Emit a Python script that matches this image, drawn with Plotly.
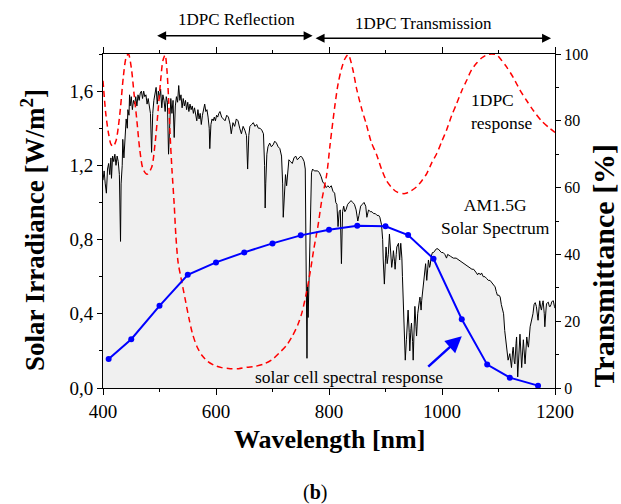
import plotly.graph_objects as go

FONT = "Liberation Serif, Times New Roman, serif"

# AM1.5G solar spectrum (W/m^2/nm)
sol_wl = [400, 402, 404, 406, 408, 410, 412, 414, 415, 417, 419, 421, 423, 425, 427, 429, 431, 432, 434, 435,
          437, 439, 441, 443, 444, 446, 447, 448, 450, 452, 454, 456, 458, 460, 462, 464, 466, 468, 470, 472,
          474, 476, 478, 480, 482, 484, 486, 488, 490, 492, 494, 496, 498, 500, 502, 504, 506, 508, 510, 512,
          514, 516, 518, 520, 522, 524, 526, 528, 530, 532, 534, 536, 538, 540, 542, 544, 546, 548, 550, 552,
          554, 556, 558, 560, 562, 564, 566, 568, 570, 572, 574, 576, 578, 580, 582, 584, 586, 588, 589, 591,
          593, 595, 597, 599, 601, 603, 605, 607, 610, 613, 616, 619, 622, 625, 627, 630, 633, 636, 639, 642,
          645, 648, 651, 654, 656, 658, 660, 663, 666, 669, 672, 675, 678, 681, 684, 686, 687, 688, 690, 692,
          695, 698, 701, 704, 707, 710, 713, 716, 718, 719, 721, 723, 725, 727, 729, 732, 735, 738, 741, 744,
          747, 750, 753, 756, 758, 759, 760, 761, 762, 763, 765, 766, 768, 769, 771, 774, 777, 780, 783, 786,
          789, 792, 795, 798, 801, 804, 807, 810, 812, 814, 816, 818, 820, 822, 824, 826, 828, 830, 833, 836,
          839, 842, 845, 848, 851, 853, 856, 859, 862, 865, 867, 870, 873, 876, 879, 882, 885, 888, 890, 893,
          895, 896, 898, 900, 901, 903, 905, 907, 909, 911, 913, 914, 916, 917, 919, 920, 923, 925, 927, 929,
          930, 932, 933, 935, 937, 939, 940, 942, 943, 945, 946, 948, 949, 951, 952, 954, 955, 957, 958, 960,
          961, 963, 964, 966, 968, 970, 971, 973, 975, 976, 978, 979, 981, 983, 985, 987, 990, 993, 996, 999,
          1002, 1005, 1008, 1010, 1015, 1020, 1025, 1030, 1035, 1040, 1045, 1050, 1053, 1056, 1059, 1061, 1063,
          1065, 1068, 1070, 1073, 1076, 1079, 1082, 1085, 1088, 1091, 1094, 1096, 1098, 1101, 1103, 1105, 1107,
          1109, 1111, 1113, 1115, 1116, 1117, 1120, 1122, 1123, 1125, 1126, 1128, 1129, 1131, 1132, 1134, 1136,
          1138, 1141, 1143, 1144, 1147, 1150, 1152, 1153, 1156, 1159, 1161, 1163, 1165, 1167, 1169, 1170, 1172,
          1173, 1175, 1176, 1178, 1179, 1181, 1182, 1184, 1185, 1187, 1188, 1190, 1191, 1193, 1194, 1196, 1197,
          1199, 1200]
sol_irr = [1.12, 1.17, 1.10, 1.05, 1.18, 1.21, 1.15, 1.24, 1.13, 1.25, 1.22, 1.26, 1.20, 1.25, 1.22, 1.15, 0.79, 1.10, 1.20, 1.34,
           1.24, 1.38, 1.45, 1.40, 1.50, 1.47, 1.58, 1.52, 1.57, 1.50, 1.55, 1.53, 1.57, 1.52, 1.58, 1.55, 1.59, 1.60, 1.56, 1.60,
           1.57, 1.58, 1.53, 1.56, 1.50, 1.48, 1.27, 1.48, 1.55, 1.58, 1.62, 1.53, 1.60, 1.56, 1.61, 1.51, 1.58, 1.55, 1.49, 1.57,
           1.54, 1.26, 1.45, 1.56, 1.48, 1.55, 1.35, 1.52, 1.57, 1.54, 1.63, 1.55, 1.58, 1.51, 1.56, 1.52, 1.55, 1.50, 1.54, 1.49,
           1.53, 1.50, 1.52, 1.48, 1.51, 1.46, 1.44, 1.50, 1.45, 1.48, 1.42, 1.47, 1.50, 1.53, 1.49, 1.50, 1.46, 1.40, 1.29, 1.42,
           1.45, 1.44, 1.46, 1.44, 1.47, 1.46, 1.48, 1.49, 1.46, 1.45, 1.44, 1.47, 1.46, 1.42, 1.37, 1.43, 1.41, 1.45, 1.44, 1.40,
           1.37, 1.41, 1.39, 1.36, 1.18, 1.36, 1.41, 1.42, 1.43, 1.41, 1.42, 1.40, 1.40, 1.39, 1.37, 1.20, 0.97, 1.10, 1.26, 1.30,
           1.32, 1.30, 1.31, 1.33, 1.32, 1.30, 1.29, 1.25, 1.10, 0.92, 1.05, 1.15, 1.09, 1.18, 1.23, 1.22, 1.21, 1.24, 1.25, 1.23,
           1.24, 1.25, 1.24, 1.22, 1.18, 0.67, 0.40, 0.16, 0.55, 0.38, 0.62, 0.80, 1.05, 1.16, 1.18, 1.17, 1.17, 1.17, 1.16, 1.14,
           1.11, 1.10, 1.08, 1.09, 1.08, 1.09, 1.06, 1.05, 1.00, 0.99, 0.87, 0.95, 0.96, 0.67, 0.95, 0.98, 0.95, 0.96, 0.99, 1.00,
           1.01, 1.00, 0.99, 0.96, 0.90, 0.93, 0.98, 0.99, 1.00, 0.98, 0.92, 0.96, 0.95, 0.95, 0.94, 0.94, 0.93, 0.93, 0.92, 0.88,
           0.80, 0.69, 0.56, 0.70, 0.76, 0.67, 0.72, 0.83, 0.72, 0.65, 0.70, 0.74, 0.68, 0.64, 0.72, 0.76, 0.78, 0.69, 0.78, 0.70,
           0.60, 0.38, 0.30, 0.15, 0.26, 0.35, 0.42, 0.30, 0.20, 0.32, 0.35, 0.25, 0.15, 0.35, 0.44, 0.33, 0.28, 0.40, 0.44, 0.47,
           0.49, 0.42, 0.47, 0.52, 0.60, 0.63, 0.67, 0.58, 0.64, 0.69, 0.65, 0.66, 0.71, 0.73, 0.73, 0.74, 0.75, 0.75, 0.74, 0.73,
           0.73, 0.72, 0.70, 0.72, 0.71, 0.70, 0.70, 0.69, 0.68, 0.67, 0.66, 0.65, 0.64, 0.64, 0.63, 0.62, 0.61,
           0.62, 0.61, 0.62, 0.60, 0.60, 0.59, 0.58, 0.58, 0.57, 0.56, 0.545, 0.52, 0.50, 0.50, 0.49, 0.45, 0.43,
           0.40, 0.31, 0.26, 0.22, 0.17, 0.15, 0.185, 0.12, 0.11, 0.20, 0.22, 0.14, 0.13, 0.24, 0.275, 0.06, 0.15,
           0.29, 0.11, 0.22, 0.26, 0.13, 0.275, 0.23, 0.22, 0.33, 0.365, 0.40, 0.45, 0.46, 0.44, 0.40, 0.365, 0.44,
           0.47, 0.43, 0.42, 0.46, 0.47, 0.40, 0.33, 0.42, 0.455, 0.46, 0.463, 0.44, 0.437, 0.45, 0.463, 0.47, 0.47,
           0.44, 0.43]

# 1DPC transmittance (%)
red_wl = [400, 405, 410, 414, 418, 423, 427, 431, 436, 441, 445, 450, 455, 460, 465, 471, 478, 486, 492, 498,
          502, 506, 510, 513, 516, 519, 522, 526, 529, 533, 538, 545, 552, 558, 566, 575, 585, 597, 610, 625,
          640, 655, 670, 685, 700, 712, 725, 735, 745, 752, 760, 767, 773, 780, 787, 796, 802, 810, 816, 822,
          828, 834, 842, 849, 858, 866, 875, 884, 893, 902, 911, 920, 934, 945, 955, 964, 973, 982, 991, 1000,
          1008, 1017, 1026, 1035, 1044, 1052, 1061, 1070, 1079, 1088, 1097, 1105, 1114, 1126, 1138, 1150, 1162,
          1176, 1191, 1200]
red_t = [92, 82, 76, 73, 72.3, 74, 78, 84, 93.2, 99, 100, 96, 88, 80, 71.5, 65.5, 64, 66, 73, 84,
         92, 98, 99.7, 95.5, 87, 75, 65.5, 55, 45.5, 37.5, 33, 27, 21, 16.5, 12.5, 9.8, 8, 6.8, 6.1, 5.8,
         5.8, 6.2, 6.5, 7.2, 8.6, 10.5, 12.8, 15.5, 19, 22.5, 28.5, 35, 41.5, 48, 56, 64, 73, 84, 91, 95.5,
         98.5, 99.8, 95.5, 89.5, 83.5, 79, 73.5, 70, 65.5, 62, 60, 58.7, 58.2, 59, 60.2, 62, 64.2, 67.5, 70.3, 74,
         77.2, 81.5, 85.2, 89, 92.2, 95.2, 97.2, 98.8, 99.7, 100, 99.7, 98.2, 96.2, 93, 89.2, 86, 83,
         80, 77.7, 76.5]

# Solar cell spectral response (right axis scale)
blue_wl = [410, 450, 500, 550, 600, 650, 700, 750, 800, 850, 900, 940, 985, 1035, 1080, 1120, 1170]
blue_sr = [8.7, 14.6, 24.6, 33.9, 37.6, 40.6, 43.3, 45.7, 47.4, 48.6, 48.4, 45.8, 38.7, 20.6, 7.0, 3.1, 0.7]

x_ticks = [400, 600, 800, 1000, 1200]
y_ticks = [0, 0.4, 0.8, 1.2, 1.6]
y_ticktext = ["0,0", "0,4", "0,8", "1,2", "1,6"]
y2_ticks = [0, 20, 40, 60, 80, 100]

fig = go.Figure()
fig.add_trace(go.Scatter(x=sol_wl, y=sol_irr, mode="lines", line=dict(color="black", width=1),
                         fill="tozeroy", fillcolor="rgb(240,240,240)", yaxis="y", hoverinfo="skip"))
fig.add_trace(go.Scatter(x=red_wl, y=red_t, mode="lines",
                         line=dict(color="red", width=1.5, dash="6px,4px", shape="spline", smoothing=0.8),
                         yaxis="y2"))
fig.add_trace(go.Scatter(x=blue_wl, y=blue_sr, mode="lines+markers", line=dict(color="blue", width=2),
                         marker=dict(color="blue", size=6), yaxis="y2"))

axis_common = dict(showline=True, linecolor="black", linewidth=1, ticks="outside", tickcolor="black",
                   tickwidth=1, showgrid=False, zeroline=False)

fig.update_layout(
    width=621, height=504,
    margin=dict(l=103, r=66, t=54, b=116),
    paper_bgcolor="white", plot_bgcolor="white",
    showlegend=False,
    font=dict(family=FONT, color="black"),
    xaxis=dict(range=[400, 1200], tickvals=x_ticks, ticklen=6, mirror="ticks",
               tickfont=dict(size=19, family=FONT),
               minor=dict(dtick=100, tick0=400, ticks="outside", ticklen=3, tickcolor="black"),
               **axis_common),
    yaxis=dict(range=[0, 1.8], tickvals=y_ticks, ticktext=y_ticktext, ticklen=5,
               tickfont=dict(size=19, family=FONT),
               minor=dict(dtick=0.2, tick0=0, ticks="outside", ticklen=3, tickcolor="black"),
               **axis_common),
    yaxis2=dict(range=[0, 100], overlaying="y", side="right", tickvals=y2_ticks, ticklen=5,
                tickfont=dict(size=16, family=FONT),
                minor=dict(dtick=10, tick0=0, ticks="outside", ticklen=3, tickcolor="black"),
                **axis_common),
)

ann = []
# axis titles
ann.append(dict(text="<b>Solar Irradiance [W/m<sup>2</sup>]</b>", xref="paper", yref="paper",
                x=-0.155, y=0.473, textangle=-90, showarrow=False, font=dict(size=27, family=FONT),
                xanchor="center", yanchor="middle"))
ann.append(dict(text="<b>Wavelength [nm]</b>", xref="paper", yref="paper", x=0.5, y=-0.153,
                showarrow=False, font=dict(size=26, family=FONT), xanchor="center", yanchor="middle"))
ann.append(dict(text="<b>Transmittance [%]</b>", xref="paper", yref="paper", x=1.107, y=0.368,
                textangle=-90, showarrow=False, font=dict(size=30, family=FONT),
                xanchor="center", yanchor="middle"))
ann.append(dict(text="(<b>b</b>)", xref="paper", yref="paper", x=0.469, y=-0.314, showarrow=False,
                font=dict(size=20, family=FONT), xanchor="center", yanchor="middle"))
# top range labels and arrows
ann.append(dict(text="1DPC Reflection", xref="x", yref="paper", x=637, y=1.104, showarrow=False,
                font=dict(size=17, family=FONT), xanchor="center", yanchor="middle"))
ann.append(dict(text="1DPC Transmission", xref="x", yref="paper", x=968, y=1.09, showarrow=False,
                font=dict(size=17, family=FONT), xanchor="center", yanchor="middle"))
ann.append(dict(text="", xref="x", yref="paper", x=771, y=1.0548, ax=-157, ay=0, showarrow=True,
                arrowside="end+start", arrowhead=2, arrowsize=1.2, arrowwidth=1.5, arrowcolor="black",
                standoff=0, startstandoff=0))
ann.append(dict(text="", xref="x", yref="paper", x=1193, y=1.047, ax=-237, ay=0, showarrow=True,
                arrowside="end+start", arrowhead=2, arrowsize=1.2, arrowwidth=1.5, arrowcolor="black",
                standoff=0, startstandoff=0))
# in-plot labels
ann.append(dict(text="1DPC<br>response", xref="x", yref="y2", x=1048, y=82.9, showarrow=False,
                align="left", xanchor="left", yanchor="middle", font=dict(size=17.5, family=FONT)))
ann.append(dict(text="AM1.5G<br>Solar Spectrum", xref="x", yref="y2", x=1094, y=51.2, showarrow=False,
                align="center", xanchor="center", yanchor="middle", font=dict(size=17.5, family=FONT)))
ann.append(dict(text="solar cell spectral response", xref="x", yref="y2", x=836, y=3.3, showarrow=False,
                xanchor="center", yanchor="middle", font=dict(size=17.5, family=FONT)))
ann.append(dict(text="", xref="x", yref="y2", x=1035, y=15.5, axref="x", ayref="y2", ax=973, ay=6,
                showarrow=True, arrowhead=2, arrowsize=1.3, arrowwidth=2.5, arrowcolor="blue", standoff=0))
fig.update_layout(annotations=ann)

fig.write_html("out.html")
